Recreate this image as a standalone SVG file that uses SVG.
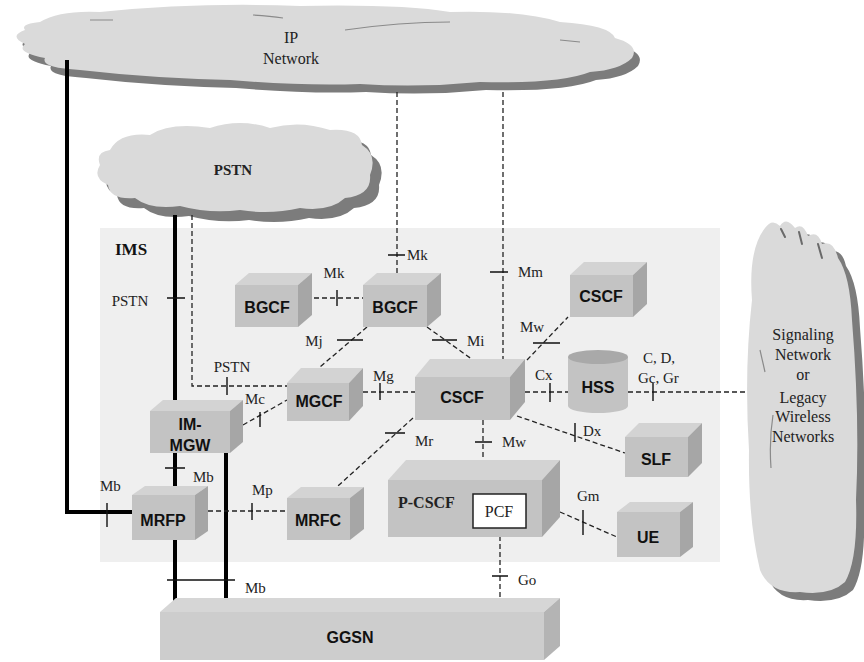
<svg xmlns="http://www.w3.org/2000/svg" width="864" height="662" viewBox="0 0 864 662">
  <style>
    .cloud { fill: #dadada; }
    .shade { fill: #7c7c7c; }
    .streak { fill: none; stroke: #8a8a8a; stroke-width: 1.2; }
    .crease { fill: none; stroke: #6a6a6a; stroke-width: 2; stroke-linecap: round; }
    .front { fill: #c3c3c3; }
    .top { fill: #d3d3d3; }
    .side { fill: #a6a6a6; }
    .dash { fill: none; stroke: #222; stroke-width: 1.3; stroke-dasharray: 5 3; }
    .thick { fill: none; stroke: #000; stroke-width: 4; }
    .tick { fill: none; stroke: #111; stroke-width: 1.4; }
    .lbl { font-family: "Liberation Serif", "Times New Roman", serif; font-size: 15px; fill: #222; }
    .cl { font-family: "Liberation Serif", "Times New Roman", serif; font-size: 16px; fill: #222; text-anchor: middle; }
    .nm { font-family: "Liberation Sans", Arial, sans-serif; font-weight: bold; font-size: 16px; fill: #111; text-anchor: middle; }
  </style>

  <rect width="864" height="662" fill="#fff"/>

  <!-- IMS domain -->
  <g id="ims">
    <rect x="100" y="228" width="620" height="334" fill="#efefef"/>
    <text x="115" y="255" font-family="Liberation Serif, serif" font-weight="bold" font-size="17" fill="#111">IMS</text>
  </g>

  <!-- IP network cloud -->
  <g id="ip-network">
    <path class="shade" transform="translate(6,8)" d="M40,22 Q60,10 100,12 Q200,2 300,6 Q400,4 450,12 Q520,10 560,22 Q610,25 615,38 Q640,45 632,58 Q620,70 590,72 Q560,84 480,82 Q420,88 360,84 Q300,86 230,80 Q150,78 80,70 Q40,68 45,58 Q15,52 25,44 Q8,36 25,30 Q20,24 40,22 Z"/>
    <path class="cloud" d="M40,22 Q60,10 100,12 Q200,2 300,6 Q400,4 450,12 Q520,10 560,22 Q610,25 615,38 Q640,45 632,58 Q620,70 590,72 Q560,84 480,82 Q420,88 360,84 Q300,86 230,80 Q150,78 80,70 Q40,68 45,58 Q15,52 25,44 Q8,36 25,30 Q20,24 40,22 Z"/>
    <path class="streak" d="M345,30 Q400,22 450,22 M253,15 Q270,16 283,18 M90,20 L113,20 M560,40 L580,42"/>
    <text class="cl" x="291" y="43">IP</text>
    <text class="cl" x="291" y="64">Network</text>
  </g>

  <!-- PSTN cloud -->
  <g id="pstn">
    <path class="shade" transform="translate(9,10)" d="M110,150 Q120,132 150,135 Q170,122 210,128 Q240,118 270,128 Q300,120 330,130 Q360,128 362,145 Q378,155 370,175 Q372,195 345,198 Q330,212 300,208 Q270,215 240,210 Q210,214 180,206 Q150,210 135,198 Q110,200 108,185 Q92,178 100,165 Q95,152 110,150 Z"/>
    <path class="cloud" d="M110,150 Q120,132 150,135 Q170,122 210,128 Q240,118 270,128 Q300,120 330,130 Q360,128 362,145 Q378,155 370,175 Q372,195 345,198 Q330,212 300,208 Q270,215 240,210 Q210,214 180,206 Q150,210 135,198 Q110,200 108,185 Q92,178 100,165 Q95,152 110,150 Z"/>
    <text x="233" y="175" font-family="Liberation Serif, serif" font-weight="bold" font-size="15" fill="#222" text-anchor="middle">PSTN</text>
  </g>

  <!-- Signaling / legacy wireless cloud -->
  <g id="signaling-network">
    <path class="shade" transform="translate(8,8)" d="M752,300 Q748,250 765,228 Q772,218 780,226 Q786,216 795,228 Q803,222 808,236 Q818,230 822,244 Q834,240 838,258 Q850,275 852,320 Q860,420 856,500 Q858,560 845,582 Q830,596 800,592 Q770,594 760,570 Q748,520 749,450 Q744,370 752,300 Z"/>
    <path class="cloud" d="M752,300 Q748,250 765,228 Q772,218 780,226 Q786,216 795,228 Q803,222 808,236 Q818,230 822,244 Q834,240 838,258 Q850,275 852,320 Q860,420 856,500 Q858,560 845,582 Q830,596 800,592 Q770,594 760,570 Q748,520 749,450 Q744,370 752,300 Z"/>
    <path class="crease" d="M781,229 L785,237 M799,232 L802,244 M818,244 L822,258"/>
    <path class="streak" d="M760,350 L765,372 M773,415 Q769,440 771,468"/>
    <text class="cl" x="803" y="340">Signaling</text>
    <text class="cl" x="803" y="360">Network</text>
    <text class="cl" x="803" y="380">or</text>
    <text class="cl" x="803" y="403">Legacy</text>
    <text class="cl" x="803" y="422">Wireless</text>
    <text class="cl" x="803" y="442">Networks</text>
  </g>

  <!-- Connectors -->
  <g id="connectors">
    <!-- bearer paths -->
    <path class="thick" d="M67,60 V512 H132"/>
    <path class="thick" d="M175,215 V408"/>
    <path class="thick" d="M175,453 V495"/>
    <path class="thick" d="M175,540 V603"/>
    <path class="thick" d="M226,453 V603"/>
    <!-- signalling paths -->
    <path class="dash" d="M192,215 V386 H287"/>
    <path class="dash" d="M298,298 H363"/>
    <path class="dash" d="M397,92 V273"/>
    <path class="dash" d="M503,92 V359"/>
    <path class="dash" d="M367,327 L320,367"/>
    <path class="dash" d="M427,327 L473,360"/>
    <path class="dash" d="M527,360 L568,317"/>
    <path class="dash" d="M363,392 H415"/>
    <path class="dash" d="M525,392 H568"/>
    <path class="dash" d="M628,392 H747"/>
    <path class="dash" d="M517,416 L625,453"/>
    <path class="dash" d="M413,418 L328,495"/>
    <path class="dash" d="M483,420 V480"/>
    <path class="dash" d="M243,425 L287,400"/>
    <path class="dash" d="M208,511 H287"/>
    <path class="dash" d="M560,512 L617,537"/>
    <path class="dash" d="M500,528 V600"/>
    <!-- interface ticks -->
    <path class="tick" d="M167,298 H185 M227,377 V395 M337,290 V306 M388,255 H405 M337,340 H363 M432,340 H457 M490,272 H508 M533,343 H560 M380,383 V400 M550,383 V402 M653,383 V401 M575,423 V442 M385,433 H405 M475,442 H492 M260,412 V427 M252,503 V520 M107,503 V527 M165,468 H185 M167,580 H235 M583,510 V535 M492,576 H508"/>
    <!-- interface names -->
    <text class="lbl" x="130" y="306" text-anchor="middle">PSTN</text>
    <text class="lbl" x="232" y="372" text-anchor="middle">PSTN</text>
    <text class="lbl" x="334" y="278" text-anchor="middle">Mk</text>
    <text class="lbl" x="407" y="260">Mk</text>
    <text class="lbl" x="314" y="346" text-anchor="middle">Mj</text>
    <text class="lbl" x="467" y="346">Mi</text>
    <text class="lbl" x="518" y="277">Mm</text>
    <text class="lbl" x="520" y="332">Mw</text>
    <text class="lbl" x="373" y="381">Mg</text>
    <text class="lbl" x="535" y="380">Cx</text>
    <text class="lbl" x="643" y="363">C, D,</text>
    <text class="lbl" x="638" y="383">Gc, Gr</text>
    <text class="lbl" x="583" y="436">Dx</text>
    <text class="lbl" x="415" y="446">Mr</text>
    <text class="lbl" x="502" y="447">Mw</text>
    <text class="lbl" x="245" y="404">Mc</text>
    <text class="lbl" x="252" y="495">Mp</text>
    <text class="lbl" x="100" y="491">Mb</text>
    <text class="lbl" x="193" y="482">Mb</text>
    <text class="lbl" x="245" y="593">Mb</text>
    <text class="lbl" x="577" y="501">Gm</text>
    <text class="lbl" x="518" y="585">Go</text>
  </g>

  <!-- Functional entities -->
  <g id="bgcf-1">
    <polygon class="top" points="235,285 249,273 312,273 298,285"/>
    <polygon class="side" points="298,285 312,273 312,315 298,327"/>
    <rect class="front" x="235" y="285" width="63" height="42"/>
    <text class="nm" x="267" y="313">BGCF</text>
  </g>
  <g id="bgcf-2">
    <polygon class="top" points="363,285 377,273 441,273 427,285"/>
    <polygon class="side" points="427,285 441,273 441,315 427,327"/>
    <rect class="front" x="363" y="285" width="64" height="42"/>
    <text class="nm" x="395" y="313">BGCF</text>
  </g>
  <g id="cscf-peer">
    <polygon class="top" points="570,275 584,262 647,262 633,275"/>
    <polygon class="side" points="633,275 647,262 647,304 633,317"/>
    <rect class="front" x="570" y="275" width="63" height="42"/>
    <text class="nm" x="601" y="302">CSCF</text>
  </g>
  <g id="mgcf">
    <polygon class="top" points="287,383 301,368 363,368 349,383"/>
    <polygon class="side" points="349,383 363,368 363,406 349,421"/>
    <rect class="front" x="287" y="383" width="62" height="38"/>
    <text class="nm" x="319" y="407">MGCF</text>
  </g>
  <g id="cscf">
    <polygon class="top" points="415,377 430,359 525,359 510,377"/>
    <polygon class="side" points="510,377 525,359 525,402 510,420"/>
    <rect class="front" x="415" y="377" width="95" height="43"/>
    <text class="nm" x="462" y="403">CSCF</text>
  </g>
  <g id="hss">
    <path d="M568,357 V406 A30,7 0 0 0 628,406 V357 Z" fill="#c3c3c3"/>
    <ellipse cx="598" cy="357" rx="30" ry="7" fill="#a9a9a9"/>
    <text class="nm" x="598" y="393">HSS</text>
  </g>
  <g id="im-mgw">
    <polygon class="top" points="150,411 163,400 243,400 230,411"/>
    <polygon class="side" points="230,411 243,400 243,442 230,453"/>
    <rect class="front" x="150" y="411" width="80" height="42"/>
    <text class="nm" x="190" y="430">IM-</text>
    <text class="nm" x="190" y="451">MGW</text>
  </g>
  <g id="mrfp">
    <polygon class="top" points="132,495 145,486 208,486 195,495"/>
    <polygon class="side" points="195,495 208,486 208,531 195,540"/>
    <rect class="front" x="132" y="495" width="63" height="45"/>
    <text class="nm" x="163" y="526">MRFP</text>
  </g>
  <g id="mrfc">
    <polygon class="top" points="287,498 301,487 364,487 350,498"/>
    <polygon class="side" points="350,498 364,487 364,529 350,540"/>
    <rect class="front" x="287" y="498" width="63" height="42"/>
    <text class="nm" x="318" y="526">MRFC</text>
  </g>
  <g id="slf">
    <polygon class="top" points="625,437 639,423 702,423 688,437"/>
    <polygon class="side" points="688,437 702,423 702,463 688,477"/>
    <rect class="front" x="625" y="437" width="63" height="40"/>
    <text class="nm" x="656" y="465">SLF</text>
  </g>
  <g id="p-cscf">
    <polygon class="top" points="388,480 406,460 560,460 542,480"/>
    <polygon class="side" points="542,480 560,460 560,517 542,537"/>
    <rect class="front" x="388" y="480" width="154" height="57"/>
    <text x="398" y="508" font-family="Liberation Serif, serif" font-weight="bold" font-size="16" fill="#222">P-CSCF</text>
    <rect x="473" y="494" width="53" height="34" fill="#fff" stroke="#222" stroke-width="1.5"/>
    <text class="cl" x="499" y="517" font-size="15">PCF</text>
  </g>
  <g id="ue">
    <polygon class="top" points="617,512 630,502 693,502 680,512"/>
    <polygon class="side" points="680,512 693,502 693,547 680,557"/>
    <rect class="front" x="617" y="512" width="63" height="45"/>
    <text class="nm" x="648" y="543">UE</text>
  </g>
  <g id="ggsn">
    <polygon points="160,612 176,598 560,598 544,612" fill="#d6d6d6"/>
    <polygon points="544,612 560,598 560,646 544,660" fill="#b4b4b4"/>
    <rect x="160" y="612" width="384" height="48" fill="#cdcdcd"/>
    <text class="nm" x="350" y="643">GGSN</text>
  </g>
</svg>
